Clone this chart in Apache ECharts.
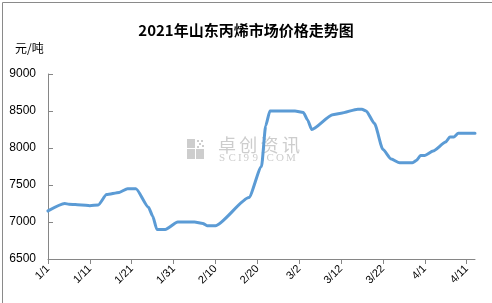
<!DOCTYPE html>
<html><head><meta charset="utf-8">
<script src="https://cdn.jsdelivr.net/npm/echarts@6/dist/echarts.min.js"></script>
<style>html,body{margin:0;padding:0;background:#fff}#c{width:492px;height:303px}</style>
</head><body><div id="c"></div>
<script>
// Observed price points (date -> yuan/ton)
var keyDates  = ['1/1','1/5','1/6','1/9','1/11','1/13','1/15','1/18','1/20','1/22','1/25','1/26','1/27','1/29',
                 '2/1','2/5','2/7','2/8','2/10','2/18','2/21','2/22','2/23','3/1','3/3','3/4','3/5','3/10','3/12',
                 '3/16','3/17','3/18','3/20','3/22','3/24','3/26','3/29','3/30','3/31','4/1','4/3','4/6','4/7','4/8','4/9','4/13'];
var keyPrices = [7150,7250,7240,7230,7220,7230,7370,7400,7450,7450,7200,7080,6900,6900,
                 7000,7000,6980,6950,6950,7330,7750,8300,8500,8500,8480,8380,8250,8450,8470,
                 8525,8525,8500,8330,7980,7850,7800,7800,7830,7900,7900,7960,8080,8150,8150,8200,8200];
var yTicks = [6500,7000,7500,8000,8500,9000];
var titleText = '2021年山东丙烯市场价格走势图';
var unitText = '元/吨';

// daily category axis 1/1 .. 4/13
var monthDays = [31,28,31,13];
var categories = [];
for (var m = 0; m < monthDays.length; m++) {
  for (var d = 1; d <= monthDays[m]; d++) categories.push((m+1) + '/' + d);
}
var seriesData = categories.map(function(c){
  var i = keyDates.indexOf(c);
  return i >= 0 ? keyPrices[i] : null;
});

var wm = '#cdcdcd';
var graphics = [
  {type: 'rect', left: 0, top: 0, shape: {width: 491, height: 302}, style: {fill: 'none', stroke: '#8a8a8a', lineWidth: 1}, z: 100},
  {type: 'text', left: 15, top: 42, style: {text: unitText, fontFamily: 'Noto Sans CJK SC', fontSize: 12, fill: '#000'}},
  {type: 'rect', x: 187, y: 139, shape: {width: 8, height: 9}, style: {fill: wm}, z: -1},
  {type: 'rect', x: 187, y: 149, shape: {width: 8, height: 10}, style: {fill: wm}, z: -1},
  {type: 'rect', x: 196, y: 149, shape: {width: 8, height: 10}, style: {fill: wm}, z: -1},
  {type: 'rect', x: 197, y: 140, shape: {width: 2, height: 2}, style: {fill: wm}, z: -1},
  {type: 'rect', x: 201, y: 140, shape: {width: 2, height: 2}, style: {fill: wm}, z: -1},
  {type: 'rect', x: 199, y: 143, shape: {width: 2, height: 2}, style: {fill: wm}, z: -1},
  {type: 'rect', x: 197, y: 146, shape: {width: 2, height: 2}, style: {fill: wm}, z: -1},
  {type: 'rect', x: 202, y: 145, shape: {width: 2, height: 2}, style: {fill: wm}, z: -1}
];
'卓创资讯'.split('').forEach(function(ch, i){
  graphics.push({type: 'text', x: 218 + i * 21.3, y: 136,
    style: {text: ch, fontFamily: 'Noto Sans CJK SC', fontSize: 18, fill: wm, verticalAlign: 'top'}, z: -1});
});
'SCI99.COM'.split('').forEach(function(ch, i){
  var off = [0, 9.5, 19, 24.5, 33.5, 42.5, 47.5, 57, 67][i];
  graphics.push({type: 'text', x: 219 + off, y: 153,
    style: {text: ch, fontFamily: 'Liberation Serif', fontSize: 11, fill: wm, verticalAlign: 'top'}, z: -1});
});

var chart = echarts.init(document.getElementById('c'));
chart.setOption({
  animation: false,
  backgroundColor: '#fff',
  title: {
    text: titleText, left: 'center', top: 18,
    textStyle: {fontFamily: 'Noto Sans CJK SC', fontSize: 15, fontWeight: 'bold', color: '#000'}
  },
  graphic: graphics,
  grid: {left: 48, right: 17, top: 74, bottom: 44, containLabel: false},
  xAxis: {
    type: 'category', data: categories, boundaryGap: false,
    axisLine: {lineStyle: {color: '#868686'}},
    axisTick: {interval: 9, length: 5, lineStyle: {color: '#868686'}},
    axisLabel: {interval: 9, rotate: 45, fontSize: 11, fontFamily: 'Liberation Sans', color: '#000', margin: 8}
  },
  yAxis: {
    type: 'value', min: yTicks[0], max: yTicks[yTicks.length-1], interval: 500,
    axisLine: {show: true, lineStyle: {color: '#868686'}},
    axisTick: {show: true, inside: true, length: 5, lineStyle: {color: '#868686'}},
    splitLine: {show: false},
    axisLabel: {fontSize: 12, fontFamily: 'Liberation Sans', color: '#000', margin: 12,
      formatter: function(v){ return String(v); }}
  },
  series: [{
    type: 'line', data: seriesData, connectNulls: true, smooth: 0.2, smoothMonotone: 'x',
    showSymbol: false, symbol: 'none',
    lineStyle: {color: '#5B9BD5', width: 3, cap: 'round', join: 'round'}
  }]
});
</script></body></html>
